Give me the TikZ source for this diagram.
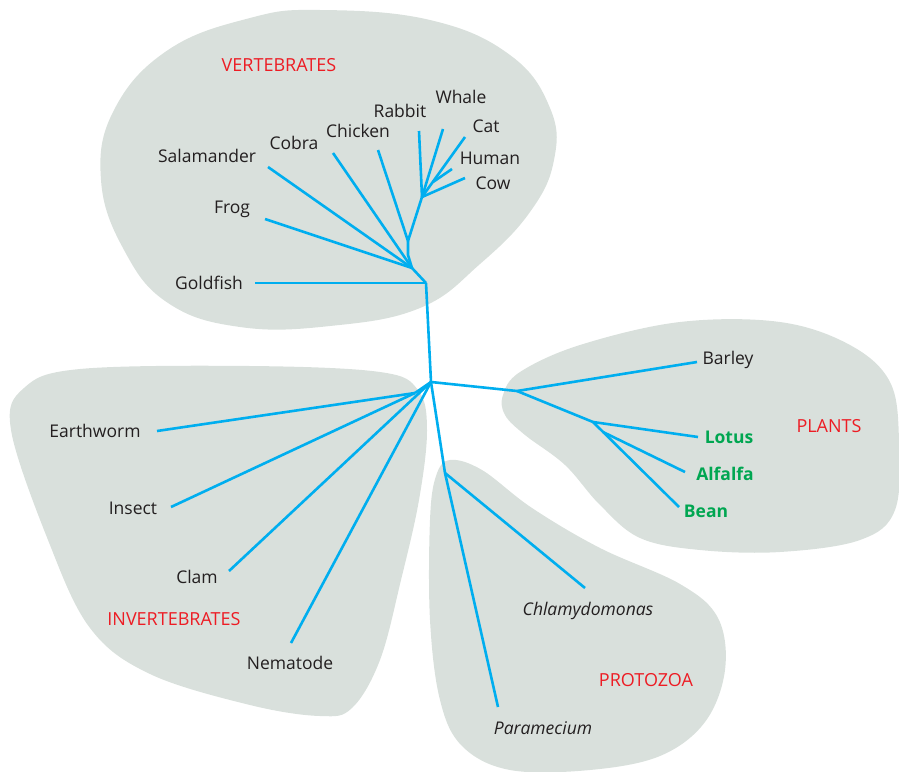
\documentclass[tikz,border=0pt]{standalone}
\usepackage{fontspec}
\setmainfont{Open Sans}
\usetikzlibrary{calc}
\definecolor{blobgray}{HTML}{D9E0DC}
\definecolor{treeblue}{HTML}{00AEEF}
\definecolor{grpred}{HTML}{ED1C24}
\definecolor{leafgreen}{HTML}{00A651}
\definecolor{txt}{HTML}{231F20}
\tikzset{
  blob/.style={fill=blobgray, draw=none},
  branch/.style={draw=treeblue, line width=2.6pt, line join=round, line cap=butt},
  leaf/.style={text=txt, font=\fontsize{17.5}{20}\selectfont, inner sep=0pt},
  leafit/.style={leaf, font=\fontsize{17.5}{20}\selectfont\itshape},
  leafgr/.style={text=leafgreen, font=\fontsize{17.5}{20}\selectfont\bfseries, inner sep=0pt},
  group/.style={text=grpred, font=\fontsize{18}{21}\selectfont, inner sep=0pt}
}
\begin{document}
\begin{tikzpicture}[x=1pt,y=-1pt]
\useasboundingbox (0,0) rectangle (899,771);
% blobs
\draw[blob] plot[smooth cycle, tension=0.7] coordinates {(320,10) (430,20) (510,55) (550,108) (554,160) (530,212) (480,264) (420,308) (330,326) (240,327) (168,303) (124,250) (101,180) (114,110) (168,50) (250,18)};
\draw[blob] plot[smooth cycle, tension=0.6] coordinates {(11,430) (24,388) (80,369) (250,366) (380,372) (418,390) (427,430) (419,500) (401,580) (380,660) (352,708) (320,716) (250,705) (150,674) (90,628) (48,540)};
\draw[blob] plot[smooth cycle, tension=0.6] coordinates {(450,460) (482,470) (532,508) (600,548) (680,584) (718,618) (725,670) (705,722) (660,756) (590,770) (510,770) (462,746) (440,700) (430,620) (430,520) (436,476)};
\draw[blob] plot[smooth cycle, tension=0.6] coordinates {(503,395) (520,372) (580,345) (680,322) (780,322) (850,345) (890,382) (899,440) (895,510) (860,540) (780,552) (700,550) (640,538) (600,505) (565,465) (525,435) (505,415)};

% internal coordinates
\coordinate (C) at (431,382);
\coordinate (R) at (426,283);
\coordinate (J1) at (412,268);
\coordinate (Jk) at (408,255);
\coordinate (J2) at (408,241);
\coordinate (M) at (422,197);
\coordinate (Mh) at (433,182);
\coordinate (P1) at (517,391);
\coordinate (P2) at (593,422);
\coordinate (Pa) at (603,432);
\coordinate (I1) at (415,393);
\coordinate (Q) at (445,473);
% tips
\coordinate (tGoldfish) at (255,283);
\coordinate (tFrog) at (265,219);
\coordinate (tSalamander) at (268,167);
\coordinate (tCobra) at (333,153);
\coordinate (tChicken) at (378,150);
\coordinate (tRabbit) at (419,131);
\coordinate (tWhale) at (443,129);
\coordinate (tCat) at (465,137);
\coordinate (tHuman) at (452,169);
\coordinate (tCow) at (465,178);
\coordinate (tBarley) at (697,362);
\coordinate (tLotus) at (698,437);
\coordinate (tAlfalfa) at (685,472);
\coordinate (tBean) at (679,507);
\coordinate (tEarthworm) at (157,431);
\coordinate (tInsect) at (171,507);
\coordinate (tClam) at (229,571);
\coordinate (tNematode) at (291,643);
\coordinate (tChlamy) at (585,588);
\coordinate (tParam) at (498,707);

% branches
\path[branch] (C) -- (R);
\path[branch] (tGoldfish) -- (R);
\path[branch] (R) -- (J1);
\path[branch] (tFrog) -- (J1);
\path[branch] (tSalamander) -- (J1);
\path[branch] (tCobra) -- (J1);
\path[branch] (J1) -- (Jk) -- (J2);
\path[branch] (tChicken) -- (J2);
\path[branch] (J2) -- (M);
\path[branch] (tRabbit) -- (M);
\path[branch] (tWhale) -- (M);
\path[branch] (tCat) -- (M);
\path[branch] (tHuman) -- (Mh);
\path[branch] (tCow) -- (M);
\path[branch] (C) -- (P1);
\path[branch] (P1) -- (tBarley);
\path[branch] (P1) -- (P2);
\path[branch] (P2) -- (tLotus);
\path[branch] (P2) -- (tBean);
\path[branch] (Pa) -- (tAlfalfa);
\path[branch] (C) -- (I1);
\path[branch] (tEarthworm) -- (I1);
\path[branch] (tInsect) -- (I1);
\path[branch] (tClam) -- (C);
\path[branch] (tNematode) -- (C);
\path[branch] (C) -- (Q);
\path[branch] (Q) -- (tChlamy);
\path[branch] (Q) -- (tParam);

% labels
\node[group] (gVert) at (279,65) {VERTEBRATES};
\node[group] (gInv) at (174,619) {INVERTEBRATES};
\node[group] (gProt) at (646,680) {PROTOZOA};
\node[group] (gPlant) at (829,426) {PLANTS};
\node[leaf] (Goldfish) at (209,283) {Goldfish};
\node[leaf] (Frog) at (232,209) {Frog};
\node[leaf] (Salamander) at (207,156) {Salamander};
\node[leaf] (Cobra) at (294,143) {Cobra};
\node[leaf] (Chicken) at (358,131) {Chicken};
\node[leaf] (Rabbit) at (400,111) {Rabbit};
\node[leaf] (Whale) at (461,97) {Whale};
\node[leaf] (Cat) at (486,126) {Cat};
\node[leaf] (Human) at (490,158) {Human};
\node[leaf] (Cow) at (493,183) {Cow};
\node[leaf] (Barley) at (728,360) {Barley};
\node[leafgr] (Lotus) at (729,437) {Lotus};
\node[leafgr] (Alfalfa) at (725,474) {Alfalfa};
\node[leafgr] (Bean) at (706,511) {Bean};
\node[leaf] (Earthworm) at (95,431) {Earthworm};
\node[leaf] (Insect) at (133,508) {Insect};
\node[leaf] (Clam) at (197,577) {Clam};
\node[leaf] (Nematode) at (290,663) {Nematode};
\node[leafit] (Chlamydomonas) at (588,611) {Chlamydomonas};
\node[leafit] (Paramecium) at (543,728) {Paramecium};
\end{tikzpicture}
\end{document}
